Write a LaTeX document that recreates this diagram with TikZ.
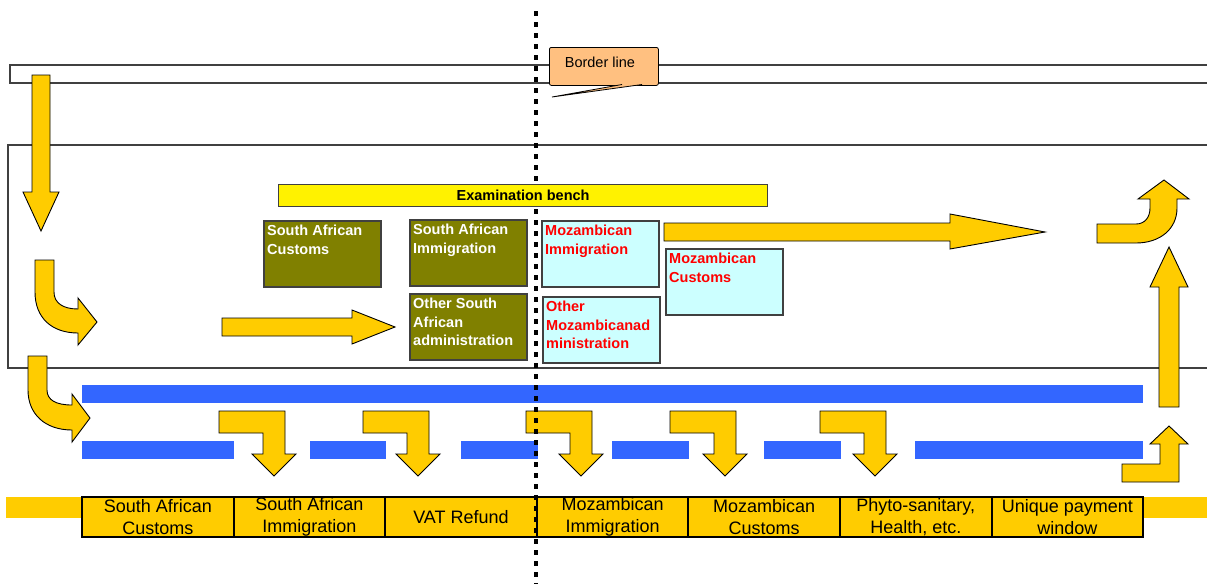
\documentclass[tikz,border=0pt]{standalone}
\usepackage{fontspec}
\setmainfont{Liberation Sans}
\usetikzlibrary{positioning}
\definecolor{arrowgold}{HTML}{FFCC00}
\definecolor{laneblue}{HTML}{3366FF}
\definecolor{saolive}{HTML}{808000}
\definecolor{mzcyan}{HTML}{CCFFFF}
\definecolor{calloutorange}{HTML}{FFC080}
\definecolor{framegray}{HTML}{404040}
\tikzset{
  blockarrow/.style={fill=arrowgold, draw=black, line width=0.9pt, line join=miter},
  lane/.style={fill=laneblue},
  frame/.style={draw=framegray, line width=1.3pt},
  office/.style={draw=framegray, line width=1.2pt, anchor=north west, inner sep=0pt, outer sep=0pt, minimum width=117pt, minimum height=66pt},
  sabox/.style={office, fill=saolive},
  mzbox/.style={office, fill=mzcyan},
  satext/.style={anchor=north west, align=left, inner xsep=3pt, inner ysep=4pt, text=white, font=\bfseries\fontsize{14.5}{18.5}\selectfont},
  mztext/.style={satext, text=red},
  cell/.style={draw=black, fill=arrowgold, line width=2pt, minimum width=151.6pt, minimum height=40pt, inner sep=0pt, outer sep=0pt, align=center, font=\fontsize{18}{22}\selectfont}
}
\begin{document}
\begin{tikzpicture}[x=1pt, y=-1pt]
  \useasboundingbox (0,0) rectangle (1207,584);
  % frames
  \draw[frame] (1207,65) -- (10,65) -- (10,83) -- (1207,83);
  \draw[frame] (1207,145) -- (8,145) -- (8,368) -- (1207,368);
  % lanes
  \fill[lane] (82,385) rectangle (1143,403);
  \fill[lane] (82,441) rectangle (234,459);
  \fill[lane] (310,441) rectangle (386,459);
  \fill[lane] (461,441) rectangle (538,459);
  \fill[lane] (612,441) rectangle (689,459);
  \fill[lane] (764,441) rectangle (841,459);
  \fill[lane] (915,441) rectangle (1143,459);
  \fill[arrowgold] (6,497) rectangle (82,518);
  \fill[arrowgold] (1143,497) rectangle (1207,518);
  % counters
  \node[cell, anchor=west] (cell1) at (82,517) {South African\\Customs};
  \node[cell, right=0pt of cell1] (cell2) {South African\\Immigration};
  \node[cell, right=0pt of cell2] (cell3) {VAT Refund};
  \node[cell, right=0pt of cell3] (cell4) {Mozambican\\Immigration};
  \node[cell, right=0pt of cell4] (cell5) {Mozambican\\Customs};
  \node[cell, right=0pt of cell5] (cell6) {Phyto-sanitary,\\Health, etc.};
  \node[cell, right=0pt of cell6] (cell7) {Unique payment\\window};
  % arrows
  \draw[blockarrow] (32,75) -- (50,75) -- (50,192) -- (59,192) -- (41,231) -- (23,192) -- (32,192) -- cycle;
  \draw[blockarrow] (35,260) -- (54,260) -- (54,292) .. controls (54,303) and (63,309) .. (78,309) -- (78,298) -- (97,322) -- (78,345) -- (78,333) .. controls (52,333) and (35,318) .. (35,292) -- cycle;
  \draw[blockarrow] (28,356) -- (47,356) -- (47,390) .. controls (47,400) and (56,405) .. (72,405) -- (72,394) -- (90,418) -- (72,442) -- (72,430) .. controls (45,430) and (28,414) .. (28,390) -- cycle;
  \draw[blockarrow] (222,318) -- (352,318) -- (352,310) -- (395,327) -- (352,344) -- (352,336) -- (222,336) -- cycle;
  \draw[blockarrow] (664,223) -- (950,223) -- (950,214) -- (1045,232) -- (950,249) -- (950,241) -- (664,241) -- cycle;
  \draw[blockarrow] (1097,224) -- (1136,224) .. controls (1145,224) and (1150,217) .. (1150,208) -- (1150,199) -- (1138,199) -- (1164,180) -- (1189,199) -- (1177,199) -- (1177,208) .. controls (1177,229) and (1160,243) .. (1136,243) -- (1097,243) -- cycle;
  \draw[blockarrow] (1159,407) -- (1179,407) -- (1179,287) -- (1188,287) -- (1169,247) -- (1150,287) -- (1159,287) -- cycle;
  \draw[blockarrow] (1122,482) -- (1179,482) -- (1179,444) -- (1188,444) -- (1169,426) -- (1150,444) -- (1160,444) -- (1160,464) -- (1122,464) -- cycle;
  \draw[blockarrow, xshift=219pt] (0,411) -- (66,411) -- (66,454) -- (77,454) -- (55,476) -- (33,454) -- (44,454) -- (44,433) -- (0,433) -- cycle;
  \draw[blockarrow, xshift=363pt] (0,411) -- (66,411) -- (66,454) -- (77,454) -- (55,476) -- (33,454) -- (44,454) -- (44,433) -- (0,433) -- cycle;
  \draw[blockarrow, xshift=526pt] (0,411) -- (66,411) -- (66,454) -- (77,454) -- (55,476) -- (33,454) -- (44,454) -- (44,433) -- (0,433) -- cycle;
  \draw[blockarrow, xshift=670pt] (0,411) -- (66,411) -- (66,454) -- (77,454) -- (55,476) -- (33,454) -- (44,454) -- (44,433) -- (0,433) -- cycle;
  \draw[blockarrow, xshift=820pt] (0,411) -- (66,411) -- (66,454) -- (77,454) -- (55,476) -- (33,454) -- (44,454) -- (44,433) -- (0,433) -- cycle;
  % border
  \draw[line width=4.5pt, dash pattern=on 4.5pt off 6.5pt] (536,11) -- (536,584);
  % offices
  \node[draw=framegray, fill=yellow, line width=1.2pt, minimum width=489pt, minimum height=22pt, inner sep=0pt, anchor=north west, font=\bfseries\fontsize{14.5}{17}\selectfont] (bench) at (278,184) {Examination bench};
  \node[sabox, label={[satext]north west:South African\\Customs}] (sacustoms) at (264,221) {};
  \node[sabox, label={[satext]north west:South African\\Immigration}] (saimmig) at (410,220) {};
  \node[sabox, label={[satext]north west:Other South\\African\\administration}] (saother) at (410,294) {};
  \node[mzbox, label={[mztext]north west:Mozambican\\Immigration}] (mzimmig) at (542,221) {};
  \node[mzbox, label={[mztext]north west:Other\\Mozambicanad\\ministration}] (mzother) at (543,297) {};
  \node[mzbox, label={[mztext]north west:Mozambican\\Customs}] (mzcustoms) at (666,249) {};
  % callout
  \node[draw=black, fill=calloutorange, rounded corners=2pt, line width=0.8pt, minimum width=109pt, minimum height=38pt, inner sep=0pt, text depth=9pt, anchor=north west, font=\fontsize{14.5}{17}\selectfont] (borderline) at (549,47) {Border line\hspace*{8pt}};
  \filldraw[fill=calloutorange, draw=black, line width=0.8pt] (622,84.5) -- (552,97) -- (642,84.5);
\end{tikzpicture}
\end{document}
